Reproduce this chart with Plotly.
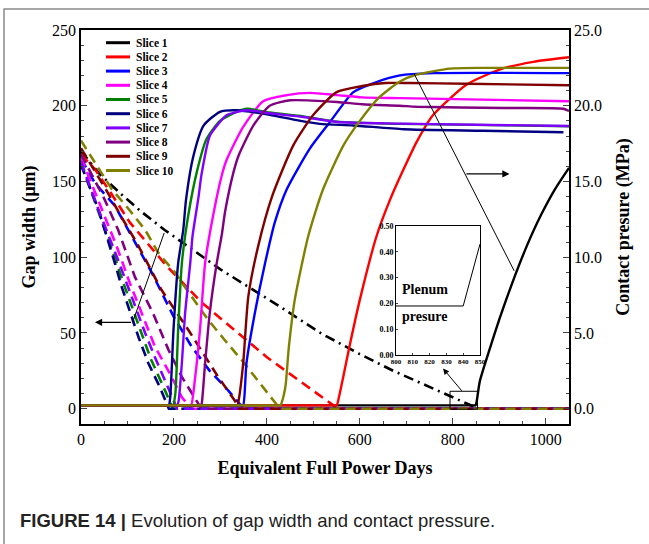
import plotly.graph_objects as go

# ---------------- data ----------------
slices = ["Slice 1", "Slice 2", "Slice 3", "Slice 4", "Slice 5",
          "Slice 6", "Slice 7", "Slice 8", "Slice 9", "Slice 10"]
colors = ["#000000", "#FF0000", "#0000FF", "#FF00FF", "#008000",
          "#000080", "#8000FF", "#800080", "#800000", "#808000"]

# gap width (um), dashed, left axis
gap_x = [
    [0, 40, 85, 130, 180, 300, 430, 515, 600, 672, 760, 820, 855, 1050],
    [0, 30, 63, 105, 185, 260, 400, 493, 535, 553, 1050],
    [0, 30, 73, 105, 152, 199, 238, 277, 314, 350, 1050],
    [0, 41, 77, 105, 134, 159, 195, 217, 238, 1050],
    [0, 37, 75, 90, 130, 150, 175, 198, 1050],
    [0, 37, 73, 87, 124, 145, 170, 189, 1050],
    [0, 37, 80, 98, 138, 159, 180, 207, 1050],
    [0, 48, 80, 116, 155, 188, 217, 245, 259, 1050],
    [0, 55, 88, 120, 173, 231, 295, 331, 339, 1050],
    [0, 66, 102, 138, 166, 202, 238, 274, 310, 346, 386, 428, 1050],
]
gap_y = [
    [170, 155, 142, 130, 118, 92, 67, 50, 36, 25, 13, 5, 0, 0],
    [168, 158, 143, 123, 94, 70, 34, 13, 4, 0, 0],
    [165, 149, 134, 116, 90, 61, 41, 25, 13, 0, 0],
    [166, 134, 107, 83, 61, 41, 21, 7.5, 0, 0],
    [162, 131, 98, 84, 50, 33, 16, 0, 0],
    [161, 132, 96, 81, 47, 30, 14, 0, 0],
    [163, 132, 98, 83, 50, 34, 19, 0, 0],
    [168, 140, 118, 87, 63, 39, 21, 7.5, 0, 0],
    [172, 144, 126, 109.5, 78.5, 52, 21, 5.3, 0, 0],
    [177, 145, 132, 118, 103, 90, 74, 58.5, 45, 32, 16.4, 0, 0],
]

# contact pressure (MPa), solid, right axis
cp_x = [
    [0, 845, 849, 852, 858, 880, 900, 916, 934, 960, 990, 1020, 1050],
    [0, 546, 550, 556, 579, 600, 636, 665, 694, 722, 758, 830, 902, 973, 1050],
    [0, 345, 349, 356, 374, 396, 417, 443, 493, 535, 586, 630, 686, 758, 1050],
    [0, 233, 237, 245, 256, 267, 284, 302, 313, 349, 392, 443, 493, 551, 605, 686, 1050],
    [0, 194, 198, 203, 209, 217, 231, 249, 270, 299, 335, 357, 406, 478, 551, 686, 1050],
    [0, 185, 189, 192, 199, 209, 220, 226, 242, 264, 299, 335, 406, 464, 514, 586, 694, 865, 1038],
    [0, 203, 207, 210, 217, 224, 235, 240, 253, 259, 277, 288, 313, 357, 406, 478, 551, 686, 1050],
    [0, 254, 258, 260, 267, 277, 292, 303, 310, 328, 339, 371, 406, 450, 551, 605, 686, 722, 908, 1038, 1050],
    [0, 333, 337, 339, 349, 360, 381, 411, 457, 500, 550, 605, 655, 706, 830, 1050],
    [0, 425, 429, 432, 440, 447, 460, 489, 521, 565, 600, 640, 686, 722, 794, 865, 1050],
]
cp_y = [
    [0.22, 0.22, 0.22, 0.6, 1.8, 4.0, 5.9, 7.3, 8.8, 10.8, 12.8, 14.5, 15.9],
    [0.22, 0.22, 0.22, 0.9, 4.3, 7.2, 11.4, 13.8, 15.8, 17.6, 19.4, 21.4, 22.4, 22.9, 23.2],
    [0.22, 0.22, 0.22, 3.0, 6.3, 9.6, 12.3, 14.5, 17.2, 18.9, 20.9, 21.5, 22.0, 22.15, 22.15],
    [0.22, 0.22, 0.22, 1.9, 5.2, 9.6, 12.7, 15.3, 16.4, 18.6, 20.3, 20.7, 20.85, 20.7, 20.55, 20.5, 20.3],
    [0.22, 0.22, 0.22, 1.0, 5.2, 9.6, 12.8, 15.6, 17.8, 19.0, 19.6, 19.8, 19.55, 19.3, 18.95, 18.8, 18.65],
    [0.22, 0.22, 0.22, 0.75, 5.2, 9.6, 11.8, 13.8, 16.7, 18.7, 19.6, 19.7, 19.4, 19.05, 18.8, 18.7, 18.45, 18.35, 18.25],
    [0.22, 0.22, 0.22, 0.5, 3.0, 6.3, 9.6, 11.4, 14.0, 15.4, 18.0, 18.5, 19.37, 19.7, 19.5, 19.26, 18.93, 18.82, 18.66],
    [0.22, 0.22, 0.22, 0.4, 3.0, 6.3, 9.6, 11.5, 13.0, 15.6, 16.7, 18.7, 20.0, 20.36, 20.25, 20.1, 20.0, 19.93, 19.85, 19.8, 19.65],
    [0.22, 0.22, 0.22, 0.5, 3.0, 7.4, 10.7, 14.0, 17.4, 19.4, 20.9, 21.3, 21.5, 21.5, 21.45, 21.35],
    [0.22, 0.22, 0.22, 0.42, 1.5, 4.0, 7.2, 11.4, 14.5, 17.4, 19.0, 20.5, 21.6, 22.05, 22.45, 22.5, 22.5],
]

# inset: plenum pressure callout line
inset_x = [800, 840, 850]
inset_y = [0.19, 0.19, 0.43]

x_ticks = [0, 200, 400, 600, 800, 1000]
y_ticks = [0, 50, 100, 150, 200, 250]
y2_ticks = [0, 5, 10, 15, 20, 25]

# ---------------- figure ----------------
W, H = 649, 544
L, R, T, B = 81, 80, 30, 120
PW, PH = W - L - R, H - T - B

def px2paper_x(px):
    return (px - L) / PW

def px2paper_y(py):
    return (H - B - py) / PH

serif = "Liberation Serif"
fig = go.Figure()

for i in range(len(slices)):
    dash = "10px,5px,2px,5px" if i == 0 else "10px,6px"
    fig.add_trace(go.Scatter(x=gap_x[i], y=gap_y[i], mode="lines",
                             line=dict(color=colors[i], width=2.6, dash=dash),
                             showlegend=False, name=slices[i] + " gap",
                             xaxis="x", yaxis="y"))

for i in range(len(slices)):
    fig.add_trace(go.Scatter(x=cp_x[i], y=cp_y[i], mode="lines",
                             line=dict(color=colors[i], width=2.4,
                                       shape="spline", smoothing=0.6),
                             showlegend=False, name=slices[i],
                             xaxis="x", yaxis="y2"))

fig.add_trace(go.Scatter(x=inset_x, y=inset_y, mode="lines",
                         line=dict(color="black", width=1),
                         showlegend=False, xaxis="x3", yaxis="y3"))

shapes = []
annotations = []

# manual legend (compact, like the original)
for i, (nm, c) in enumerate(zip(slices, colors)):
    yp = px2paper_y(42.7 + i * 14.2)
    shapes.append(dict(type="line", xref="paper", yref="paper",
                       x0=px2paper_x(106), x1=px2paper_x(130), y0=yp, y1=yp,
                       line=dict(color=c, width=3)))
    annotations.append(dict(xref="paper", yref="paper", x=px2paper_x(134), y=yp,
                            text="<b>%s</b>" % nm, showarrow=False,
                            xanchor="left", yanchor="middle",
                            font=dict(family=serif, size=11.5, color="black")))

# pointer lines and arrows
shapes.append(dict(type="line", xref="x", yref="y", x0=179, y0=116, x1=111, y1=57,
                   line=dict(color="black", width=1)))
annotations.append(dict(xref="x", yref="y", axref="x", ayref="y",
                        x=30, y=57, ax=111, ay=57, text="", showarrow=True,
                        arrowhead=2, arrowsize=1.2, arrowwidth=1.2, arrowcolor="black"))
shapes.append(dict(type="line", xref="x", yref="y", x0=717, y0=221, x1=932, y1=91,
                   line=dict(color="black", width=1)))
annotations.append(dict(xref="x", yref="y", axref="x", ayref="y",
                        x=922, y=155, ax=826, ay=155, text="", showarrow=True,
                        arrowhead=2, arrowsize=1.2, arrowwidth=1.2, arrowcolor="black"))
shapes.append(dict(type="rect", xref="x", yref="y", x0=794, x1=853, y0=-0.3, y1=11.5,
                   line=dict(color="black", width=1)))
annotations.append(dict(xref="x", yref="y", axref="x", ayref="y",
                        x=779, y=26.5, ax=822, ay=10.8, text="", showarrow=True,
                        arrowhead=2, arrowsize=1.2, arrowwidth=1, arrowcolor="black"))

# inset labels
annotations.append(dict(xref="x3", yref="y3", x=817, y=0.255, text="<b>Plenum</b>",
                        showarrow=False, font=dict(family=serif, size=14, color="black")))
annotations.append(dict(xref="x3", yref="y3", x=817, y=0.15, text="<b>presure</b>",
                        showarrow=False, font=dict(family=serif, size=14, color="black")))

# caption
annotations.append(dict(xref="paper", yref="paper", x=px2paper_x(18), y=px2paper_y(520),
                        xanchor="left", yanchor="middle", showarrow=False,
                        text="<b>FIGURE 14 |</b> Evolution of gap width and contact pressure.",
                        font=dict(family="Liberation Sans", size=18.5, color="#222222")))

# outer grey border (top and left)
shapes.append(dict(type="path", xref="paper", yref="paper",
                   path="M %f %f L %f %f L %f %f" % (px2paper_x(4), px2paper_y(560),
                                                      px2paper_x(4), px2paper_y(9),
                                                      px2paper_x(660), px2paper_y(9)),
                   line=dict(color="#8a8a8a", width=1.5)))

tickfont = dict(family=serif, size=16, color="black")
titlefont = dict(family=serif, size=18, color="black")

fig.update_layout(
    width=W, height=H,
    margin=dict(l=L, r=R, t=T, b=B),
    paper_bgcolor="white", plot_bgcolor="white",
    showlegend=False,
    shapes=shapes, annotations=annotations,
    xaxis=dict(range=[0, 1050], tickvals=x_ticks, ticks="inside", ticklen=6,
               tickwidth=1.2, showline=True, mirror=True, linecolor="black",
               linewidth=1.5, showgrid=False, zeroline=False, tickfont=tickfont,
               minor=dict(dtick=50, tick0=0, ticks="inside", ticklen=3.5, tickwidth=1),
               title=dict(text="<b>Equivalent Full Power Days</b>", font=titlefont,
                          standoff=14)),
    yaxis=dict(range=[-10.1, 250], tickvals=y_ticks, ticks="inside", ticklen=6,
               tickwidth=1.2, showline=True, linecolor="black", linewidth=1.5,
               showgrid=False, zeroline=False, tickfont=tickfont,
               minor=dict(dtick=10, tick0=0, ticks="inside", ticklen=3.5, tickwidth=1),
               title=dict(text="<b>Gap width (μm)</b>", font=titlefont, standoff=12)),
    yaxis2=dict(range=[-1.01, 25], tickvals=y2_ticks, tickformat=".1f", overlaying="y",
                side="right", ticks="inside", ticklen=6, tickwidth=1.2, showline=True,
                linecolor="black", linewidth=1.5, showgrid=False, zeroline=False,
                tickfont=tickfont,
                minor=dict(dtick=1, tick0=0, ticks="inside", ticklen=3.5, tickwidth=1),
                title=dict(text="<b>Contact presure (MPa)</b>", font=titlefont, standoff=15)),
    xaxis3=dict(domain=[px2paper_x(396), px2paper_x(480)], anchor="y3", range=[800, 850],
                dtick=10, ticks="inside", ticklen=2, showline=True, mirror=True,
                linecolor="black", linewidth=1, showgrid=False, zeroline=False,
                tickfont=dict(family=serif, size=7, color="black"), tickprefix="<b>",
                ticksuffix="</b>"),
    yaxis3=dict(domain=[px2paper_y(355), px2paper_y(226)], anchor="x3", range=[0, 0.5],
                dtick=0.1, tickformat=".2f", ticks="inside", ticklen=2, showline=True,
                mirror=True, linecolor="black", linewidth=1, showgrid=False,
                zeroline=False, tickfont=dict(family=serif, size=8, color="black"),
                tickprefix="<b>", ticksuffix="</b>"),
)

fig.write_html("out.html", config={"displayModeBar": False},
               post_script="document.body.style.margin='0px';")
